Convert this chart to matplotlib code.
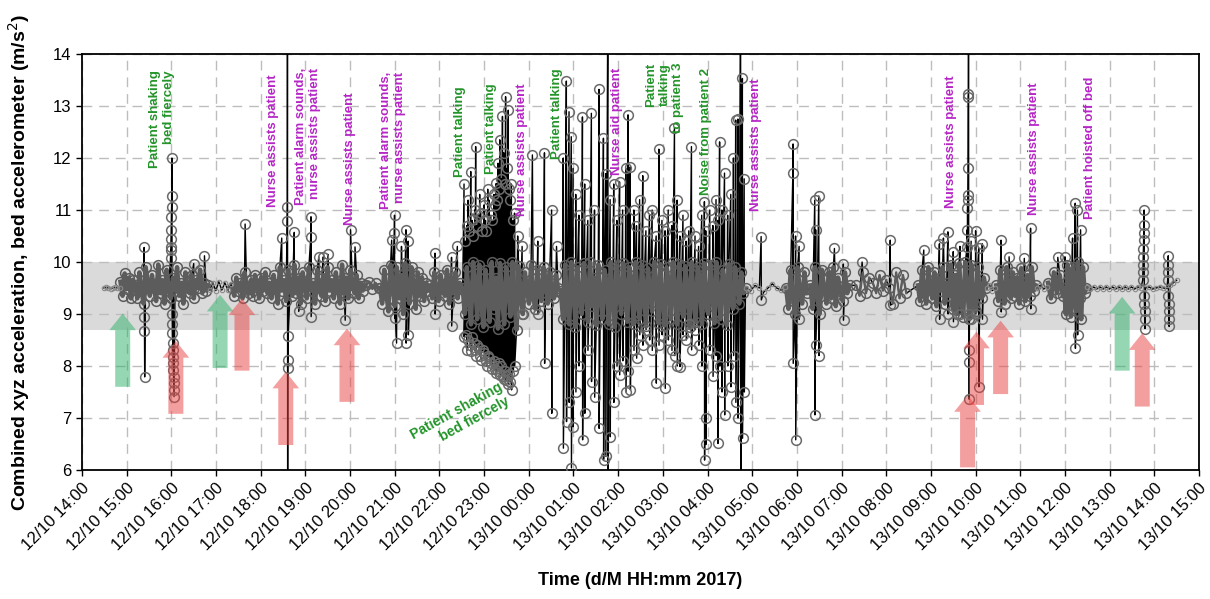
import numpy as np
import pandas as pd
import matplotlib
matplotlib.use('Agg')
import matplotlib.pyplot as plt
import matplotlib.dates as mdates

plt.rcParams['font.family'] = ['Liberation Sans', 'DejaVu Sans']

# all times are hours after 12/10/2017 14:00
START = pd.Timestamp('2017-10-12 14:00')

# active periods: (start, end) and the readings recorded across them (m/s^2)
burst_spans = [(0.86, 1.19), (1.19, 2.83), (3.36, 6.33), (6.36, 6.64), (6.67, 7.75),
               (7.79, 8.50), (8.52, 10.70), (10.72, 14.85), (15.76, 16.22), (16.30, 17.18),
               (17.33, 17.62), (17.70, 18.00), (18.07, 18.45), (18.71, 20.23), (20.46, 21.35),
               (21.62, 21.95), (21.98, 22.48)]
burst_values = [
    [9.62, 9.35, 9.78, 9.48, 9.70, 9.30, 9.66, 9.52],
    [9.55, 9.3, 9.8, 9.45, 9.2, 9.9, 9.6, 9.35, 9.75, 9.5, 9.25, 9.95,
     9.4, 9.65, 9.2, 9.85, 9.5, 9.3, 9.7, 9.45, 9.9, 9.35, 9.6, 9.2,
     9.8, 9.5, 9.4, 9.75, 9.3, 9.65, 9.5, 9.85, 9.4, 9.6, 9.45, 9.55],
    [9.5, 9.35, 9.7, 9.45, 9.6, 9.3, 9.8, 9.5, 9.4, 9.65, 9.35, 9.75,
     9.55, 9.3, 9.7, 9.45, 9.8, 9.4, 9.6, 9.3, 9.75, 9.5, 9.2, 9.9,
     9.45, 9.65, 9.25, 9.85, 9.5, 9.35, 9.95, 9.4, 9.7, 9.2, 9.8, 9.55,
     9.3, 9.9, 9.45, 9.6, 9.2, 9.85, 9.5, 9.35, 9.75, 9.25, 9.9, 9.45,
     9.65, 9.3, 9.8, 9.5, 9.2, 9.95, 9.4, 9.7, 9.3, 9.85, 9.55, 9.4,
     9.75, 9.3, 9.6, 9.45, 9.55],
    [9.55, 9.62, 9.48, 9.60, 9.50],
    [9.5, 9.2, 9.85, 9.4, 9.05, 9.95, 9.6, 9.15, 9.9, 9.3, 9.75, 9.0,
     9.98, 9.45, 9.2, 9.9, 9.55, 9.1, 9.8, 9.35, 9.7, 9.25, 9.6, 9.45],
    [9.55, 9.3, 9.8, 9.45, 9.25, 9.75, 9.5, 9.35, 9.85, 9.2, 9.7, 9.4, 9.8, 9.3, 9.6, 9.5],
    [9.5, 9.0, 9.9, 9.3, 8.8, 10.0, 9.6, 8.9, 9.95, 9.2, 8.75, 9.85,
     9.45, 8.85, 10.0, 9.1, 9.7, 8.72, 9.98, 9.35, 8.8, 9.9, 9.55, 8.95,
     10.0, 9.25, 8.7, 9.92, 9.4, 9.0, 9.8, 9.5, 9.2, 9.95, 9.35, 9.1,
     9.85, 9.45, 9.25, 9.9, 9.6, 9.2, 9.8, 9.4, 9.3, 9.75, 9.5, 9.45],
    [9.4, 8.9, 9.95, 9.2, 8.8, 10.0, 9.55, 8.75, 9.9, 9.3, 9.0, 9.98,
     9.45, 8.85, 10.0, 9.15, 9.7, 8.78, 9.95, 9.35, 8.9, 9.85, 9.6, 8.8,
     10.0, 9.25, 8.75, 9.92, 9.5, 9.0, 9.98, 9.3, 8.85, 9.9, 9.65, 8.8,
     10.0, 9.2, 8.9, 9.95, 9.45, 8.76, 9.88, 9.35, 9.05, 10.0, 9.55, 8.82,
     9.96, 9.25, 8.78, 9.9, 9.6, 8.9, 10.0, 9.4, 8.8, 9.97, 9.15, 8.95,
     9.92, 9.5, 8.75, 10.0, 9.3, 8.85, 9.9, 9.7, 8.8, 9.98, 9.2, 9.0,
     9.95, 9.45, 8.82, 10.0, 9.35, 8.9, 9.85, 9.6, 8.78, 9.96, 9.25, 9.1,
     9.9, 9.5, 9.2, 9.8, 9.4, 9.5],
    [9.5, 9.1, 9.85, 9.3, 9.0, 9.9, 9.45, 9.2, 9.8, 9.4],
    [9.55, 9.1, 9.9, 9.35, 9.0, 9.85, 9.5, 9.2, 9.8, 9.3, 9.9, 9.15,
     9.7, 9.45, 9.25, 9.8, 9.4, 9.55],
    [9.55, 9.35, 9.80, 9.40, 9.70],
    [9.60, 9.40, 9.75, 9.45, 9.65],
    [9.50, 9.20, 9.80, 9.30, 9.75, 9.40],
    [9.55, 9.25, 9.85, 9.4, 9.2, 9.9, 9.5, 9.3, 9.8, 9.15, 9.7, 9.45,
     9.9, 9.2, 9.6, 9.35, 9.95, 9.1, 9.75, 9.0, 9.98, 9.3, 8.95, 10.0,
     9.5, 8.9, 9.95, 9.2, 9.05, 9.9, 9.4, 9.3, 9.7, 9.5],
    [9.55, 9.25, 9.85, 9.4, 9.2, 9.9, 9.5, 9.3, 9.8, 9.35, 9.7, 9.2,
     9.88, 9.45, 9.25, 9.75, 9.35, 9.9, 9.45, 9.55],
    [9.60, 9.30, 9.80, 9.40, 9.75, 9.35],
    [9.5, 9.0, 9.95, 9.25, 8.95, 9.9, 9.5, 9.05, 10.0, 9.3, 8.9, 9.9, 9.4, 9.5],
]

# large excursions: hour and the consecutive readings of that event
spike_hours = [1.39, 1.98, 2.50, 2.74, 3.65, 4.47, 4.59, 4.75, 4.85, 5.12, 5.30, 5.40, 5.50,
               5.89, 6.01, 6.11, 6.93, 6.99, 7.04, 7.15, 7.25, 7.30, 7.90, 8.27, 8.40,
               8.55, 8.58, 8.61, 8.64, 8.67, 8.70, 8.73, 8.76, 8.79, 8.81, 8.84, 8.87, 8.90,
               8.92, 8.96, 9.00, 9.03, 9.05, 9.08, 9.11, 9.15, 9.18, 9.22, 9.25, 9.27, 9.29,
               9.31, 9.33, 9.35, 9.38, 9.41, 9.44, 9.46, 9.48, 9.51, 9.54, 9.56, 9.58, 9.61,
               9.65, 9.68, 9.75, 9.85, 10.08, 10.20, 10.35, 10.51, 10.62,
               10.77, 10.84, 10.90, 10.95, 10.99, 11.05, 11.12, 11.20, 11.25, 11.32, 11.40,
               11.47, 11.57, 11.67, 11.72, 11.77, 11.82, 11.90, 11.97, 12.03, 12.10, 12.17,
               12.22, 12.27, 12.35, 12.41, 12.48, 12.55, 12.62, 12.70, 12.76, 12.85, 12.91,
               12.98, 13.05, 13.12, 13.20, 13.26, 13.32, 13.38, 13.45, 13.52, 13.58, 13.64,
               13.72, 13.80, 13.87, 13.93, 13.96, 14.05, 14.12, 14.19, 14.23, 14.27, 14.32,
               14.38, 14.45, 14.52, 14.58, 14.63, 14.68, 14.74, 14.78, 14.82,
               15.20, 15.91, 15.97, 16.05, 16.40, 16.42, 16.49, 16.84, 17.04, 17.46, 18.09,
               18.84, 19.19, 19.28, 19.38, 19.50, 19.65, 19.81, 19.90, 20.00, 20.07, 20.15,
               20.57, 20.75, 21.09, 21.23, 21.84, 22.00, 22.17, 22.23, 22.28, 22.35,
               23.74, 24.30]
spike_values = [
    [10.28, 8.95, 8.67, 7.79],
    [10.07, 10.23, 10.29, 10.45, 10.62, 10.87, 11.06, 11.26, 12.00, 9.00, 8.80, 8.63, 8.44,
     8.31, 8.18, 8.05, 7.92, 7.79, 7.67, 7.54, 7.41],
    [9.97], [10.12], [10.73], [10.46],
    [10.79, 11.05, 15.50, 4.50, 7.97, 8.12, 8.58],
    [10.57], [9.05], [10.49, 10.87, 8.95], [10.10], [10.10], [10.15],
    [8.88], [10.62], [10.29], [10.42], [10.55, 10.90, 8.92], [8.44], [10.30],
    [10.62, 8.44], [10.40, 8.60], [10.17, 9.00], [10.09, 8.77], [10.30],
    [11.50, 8.56], [10.40, 8.60], [10.70, 8.30], [11.19, 8.50], [10.60, 8.40],
    [11.74, 8.28], [10.80, 8.55], [10.50, 8.45], [11.00, 8.30], [12.22, 8.20],
    [10.70, 8.40], [10.90, 8.35], [11.30, 8.20], [10.94, 8.12], [10.60, 8.30],
    [11.10, 8.25], [10.80, 8.10], [10.60, 8.00], [11.40, 8.20], [11.19, 8.15],
    [10.90, 8.05], [10.80, 7.95], [11.30, 8.10], [11.10, 7.95], [11.51, 7.86],
    [11.20, 8.00], [11.90, 7.90], [11.40, 8.05], [12.35, 7.83], [11.60, 8.00],
    [12.80, 7.80], [12.10, 7.75], [11.50, 7.90], [13.18, 7.73], [11.80, 7.80],
    [12.92, 7.65], [11.40, 7.85], [11.20, 7.70], [11.50, 7.54], [10.80, 7.90],
    [10.94, 8.00], [10.50], [10.30, 9.00], [12.06], [10.40, 9.00], [12.10, 8.05],
    [11.00, 7.09], [10.30],
    [12.00, 6.42], [13.48, 6.93], [12.89, 7.30], [12.41, 6.04], [11.80, 6.83],
    [11.30, 7.50], [10.90, 8.00], [12.79, 6.58], [11.50, 7.09], [10.80, 8.30],
    [12.86, 7.70], [11.00, 7.40], [13.32, 6.80], [12.38, 6.20], [11.70, 6.26],
    [15.50, 4.50], [11.20, 6.64], [11.50, 7.30], [10.80, 8.00], [11.54, 7.83],
    [11.00, 8.10], [11.80, 7.50], [12.83, 7.90], [11.83, 7.54], [11.00, 8.30],
    [10.70, 8.15], [11.20, 8.60], [11.66, 8.40], [10.60, 8.70], [10.90, 8.50],
    [11.00, 8.30], [10.50, 7.67], [12.17, 8.40], [10.80, 8.60], [10.60, 7.57],
    [11.00, 8.50], [10.70, 8.30], [12.58, 8.20], [11.19, 8.00], [10.50, 7.99],
    [10.90, 8.60], [10.40, 8.50], [10.60, 8.80], [12.22, 8.31], [10.50, 8.70],
    [10.30, 8.40], [10.90, 8.00], [11.16, 6.19], [10.60, 6.49, 7.00], [11.00, 8.30],
    [10.70, 7.80], [11.20, 8.20], [10.80, 6.51], [12.31, 8.00], [11.00, 7.50],
    [11.71, 7.06], [10.90, 8.00], [11.30, 7.60], [12.00, 8.20], [12.73, 7.30],
    [12.75, 7.00], [15.50, 4.50], [13.53, 6.61], [11.60, 7.50],
    [10.49, 9.27], [11.72, 12.27, 8.05], [10.50, 6.58], [10.30, 8.90], [11.19, 7.06],
    [10.62, 8.40], [11.27, 8.20], [10.26], [9.96, 8.88], [10.00], [10.42, 9.17],
    [10.23], [10.35, 8.90], [10.46], [10.58, 9.00], [10.20, 8.85], [10.30, 9.00],
    [10.29, 10.62, 11.03, 11.19, 11.29, 11.80, 13.18, 13.24, 15.50, 9.00, 8.31, 8.08, 7.36],
    [10.40, 8.90], [10.60, 9.00], [10.26, 7.60], [10.35, 8.90],
    [10.42, 9.04], [10.10], [10.07], [10.65, 9.10], [10.09], [10.10], [10.46],
    [11.13, 8.34], [11.00, 8.60], [10.62],
    [9.65, 9.80, 9.95, 10.10, 10.25, 10.42, 10.55, 10.71, 11.00, 9.35, 9.20, 9.05, 8.90, 8.72],
    [9.65, 9.80, 9.95, 10.12, 9.35, 9.20, 9.05, 8.90, 8.76],
]

# calm stretches with the bed at rest
calm_spans = [(0.49, 0.84), (2.86, 3.33), (14.87, 15.74), (20.25, 20.44), (21.37, 21.60),
              (22.50, 23.70), (23.80, 24.28), (24.35, 24.50)]
calm_values = [
    [9.50, 9.51, 9.50, 9.49, 9.50, 9.51, 9.50, 9.50],
    [9.47, 9.60, 9.45, 9.62, 9.46, 9.60, 9.47, 9.58],
    [9.50, 9.45, 9.55, 9.50, 9.42, 9.50, 9.58, 9.50, 9.46, 9.52],
    [9.50, 9.55, 9.45, 9.50],
    [9.50, 9.55, 9.48, 9.52],
    [9.52, 9.48, 9.52, 9.48, 9.52, 9.48, 9.52, 9.48, 9.52, 9.48, 9.52, 9.48, 9.52, 9.48,
     9.52, 9.48, 9.52, 9.50],
    [9.50, 9.52, 9.48, 9.50, 9.52, 9.50, 9.49],
    [9.55, 9.60, 9.65],
]

# event notes written above the trace
note_hours = [1.79, 4.27, 5.06, 6.00, 6.96, 8.46, 9.15, 9.84, 10.62, 11.97, 13.04, 13.96,
              15.08, 19.44, 21.30, 22.57]
note_tops = [13.69, 13.60, 13.73, 13.27, 13.65, 13.38, 13.44, 13.44, 13.73, 13.73, 13.83,
             13.73, 13.54, 13.58, 13.46, 13.56]
note_texts = ['Patient shaking\nbed fiercely', 'Nurse assists patient',
              'Patient alarm sounds,\nnurse assists patient', 'Nurse assists patient',
              'Patient alarm sounds,\nnurse assists patient', 'Patient talking',
              'Patient talking', 'Nurse assists patient', 'Patient talking',
              'Nurse aid patient', 'Patient\ntalking\nto patient 3', 'Noise from patient 2',
              'Nurse assists patient', 'Nurse assists patient', 'Nurse assists patient',
              'Patient hoisted off bed']
note_kinds = ['p', 'n', 'n', 'n', 'n', 'p', 'p', 'n', 'p', 'n', 'p', 'p', 'n', 'n', 'n', 'n']

# upward arrows marking events
arrow_hours = [0.91, 2.10, 3.09, 3.58, 4.56, 5.93, 19.82, 20.02, 20.56, 23.28, 23.73]
arrow_tails = [7.60, 7.08, 7.96, 7.91, 6.48, 7.31, 6.05, 7.25, 7.46, 7.91, 7.22]
arrow_tips = [9.01, 8.48, 9.37, 9.30, 7.89, 8.72, 7.44, 8.66, 8.87, 9.33, 8.63]
arrow_kinds = ['p', 'n', 'p', 'n', 'n', 'n', 'n', 'n', 'n', 'p', 'n']

GREEN = '#23942a'
MAGENTA = '#b626c6'
ARROW_COLORS = {'p': '#2daf69', 'n': '#eb4141'}
DOT = '#5c5c5c'

x0 = mdates.date2num(START)


def to_x(hours):
    return x0 + np.asarray(hours, dtype=float) / 24.0


# build the trace; keep the pieces so the dense parts can be drawn on top
burst_hrs = [np.linspace(a, b, len(v)) for (a, b), v in zip(burst_spans, burst_values)]
spike_hrs = [h + 0.004 * np.arange(len(v)) for h, v in zip(spike_hours, spike_values)]
calm_hrs = [np.linspace(a, b, len(v)) for (a, b), v in zip(calm_spans, calm_values)]

hrs = np.concatenate(burst_hrs + spike_hrs + calm_hrs)
vals = np.concatenate([np.asarray(v) for v in burst_values + spike_values + calm_values])
order = np.argsort(hrs, kind='stable')

fig, ax = plt.subplots(figsize=(12.1, 5.99), dpi=100)
fig.subplots_adjust(left=0.0678, right=0.9909, bottom=0.2154, top=0.9098)

ax.axhspan(8.7, 10.0, color='#dadada', zorder=0.5, lw=0)
ax.plot(to_x(hrs[order]), vals[order], color='black', lw=1.0, zorder=2)

# the densely sampled readings merge into a grey mass
for h, v in zip(burst_hrs, burst_values):
    dense = len(v) / (h[-1] - h[0]) > 18
    ax.plot(to_x(h), v, color=DOT, lw=3.2 if dense else 1.6, marker='o', ms=7, mfc='none',
            mec=DOT, mew=1.1, zorder=3)
sx = to_x(np.concatenate(spike_hrs))
sv = np.concatenate([np.asarray(v) for v in spike_values])
ax.plot(sx, sv, 'o', ms=7, mfc='none', mec='#6a6a6a', mew=1.1, zorder=3.5)
cx = to_x(np.concatenate(calm_hrs))
cv = np.concatenate([np.asarray(v) for v in calm_values])
ax.plot(cx, cv, 'o', ms=3.2, mfc='none', mec='#8a8a8a', mew=0.8, zorder=3)

for h, top, txt, k in zip(note_hours, note_tops, note_texts, note_kinds):
    ax.text(to_x(h), top, txt, rotation=90, ha='center', va='top', multialignment='right',
            color=GREEN if k == 'p' else MAGENTA, fontsize=9.5, fontweight='bold', zorder=5)
ax.text(to_x(8.46), 7.0, 'Patient shaking\nbed fiercely', rotation=29, ha='center',
        va='center', multialignment='right', color=GREEN, fontsize=10, fontweight='bold',
        zorder=5)

for h, tail, tip, k in zip(arrow_hours, arrow_tails, arrow_tips, arrow_kinds):
    ax.annotate('', xy=(to_x(h), tip), xytext=(to_x(h), tail), zorder=4,
                arrowprops=dict(arrowstyle='simple,head_length=1.0,head_width=1.6,tail_width=0.9',
                                mutation_scale=12, fc=ARROW_COLORS[k], ec='none', alpha=0.5,
                                shrinkA=0, shrinkB=0))

ax.set_xlim(to_x(0), to_x(25))
ax.set_ylim(6, 14)
ax.set_yticks(np.arange(6, 15, 1))
ax.xaxis.set_major_locator(mdates.HourLocator(interval=1))
ax.xaxis.set_major_formatter(mdates.DateFormatter('%d/%m %H:%M'))
plt.setp(ax.get_xticklabels(), rotation=45, ha='right', rotation_mode='anchor')
ax.tick_params(axis='both', labelsize=12, direction='out', length=4, width=1)
ax.grid(True, linestyle=(0, (7, 5)), color='#bdbdbd', lw=1)
for s in ax.spines.values():
    s.set_linewidth(1.3)

ax.set_xlabel('Time (d/M HH:mm 2017)', fontsize=13, fontweight='bold')
ax.xaxis.set_label_coords(0.5, -0.245)
ax.set_ylabel('Combined xyz acceleration, bed accelerometer (m/s$^2$)', fontsize=14,
              fontweight='bold')
ax.yaxis.set_label_coords(-0.045, 0.5)

fig.savefig('out.png', dpi=100)
